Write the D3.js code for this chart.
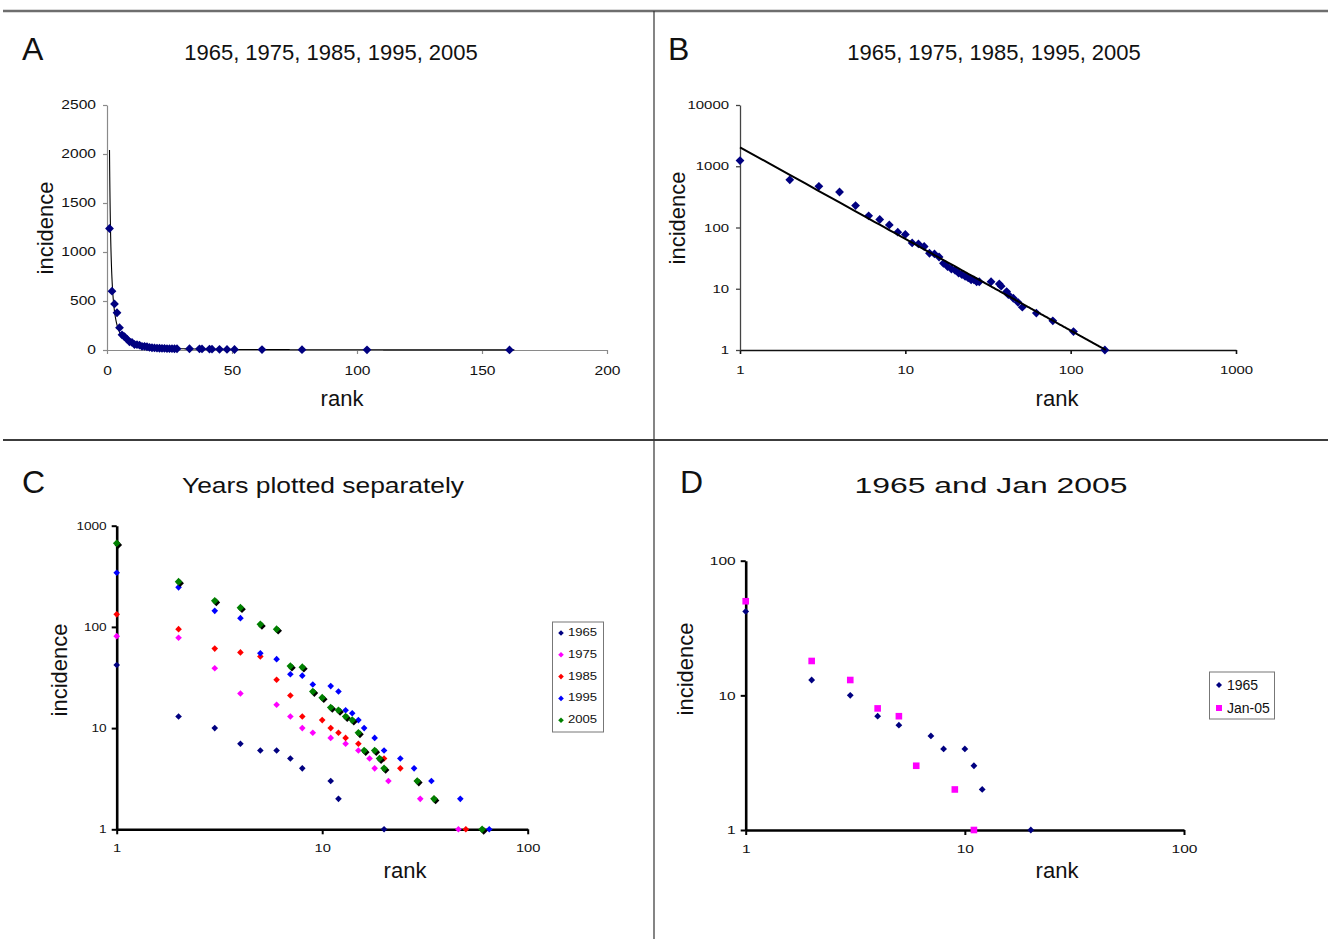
<!DOCTYPE html>
<html><head><meta charset="utf-8">
<script src="https://cdn.jsdelivr.net/npm/d3@7"></script>
<style>
body{margin:0;background:#fff;}
svg{display:block;}
text{font-family:"Liberation Sans",Arial,sans-serif;fill:#111;}
</style>
</head><body>
<svg id="chart" width="1328" height="939"></svg>
<script>
// ---------- DATA ----------
// Panels A & B: all years combined (rank vs incidence)
const allRanks     = [1,2,3,4,5,6,7,8,9,10,11,12,13,14,15,16,17,18,19,20,21,22,23,24,25,26,27,28,33,37,38,41,42,45,48,51,62,78,104,161];
const allIncidence = [1240,600,470,380,228,155,135,110,84,77,56,54,49,38,37,33,26,23,21,20,18,17,16,15,14,14,13,13,13,12,11,9,8,7,6,5,4,3,2,1];
// power-law trendline (Excel fit) : incidence = trendCoef * rank ^ trendExponent
const trendCoef = 2040;
const trendExponent = -1.496;
const trendRange = [1, 163];

// Panel C: years plotted separately
const years = ["1965","1975","1985","1995","2005"];
const rank1965 = [1,2,3,4,5,6,7,8,11,12,20];
const inc1965  = [42,13,10,7,6,6,5,4,3,2,1];
const rank1975 = [1,2,3,4,6,7,8,9,11,13,15,17,18,21,30,46];
const inc1975  = [81,78,39,22,17,13,10,9,8,7,6,5,4,3,2,1];
const rank1985 = [1,2,3,4,5,6,7,8,10,11,12,13,15,20,24,29,35,50];
const inc1985  = [133,95,61,56,51,30,21,13,12,10,9,8,7,5,4,3,2,1];
const rank1995 = [1,2,3,4,5,6,7,8,9,11,12,13,14,15,16,18,20,24,28,34,47,65];
const inc1995  = [343,246,144,122,55,48,34,33,27,26,23,15,14,12,10,8,6,5,4,3,2,1];
const rank2005 = [1,2,3,4,5,6,7,8,9,10,11,12,13,14,15,16,18,19,20,29,35,60];
const inc2005  = [670,280,181,155,106,95,41,40,23,20,16,15,13,12,9,6,6,5,4,3,2,1];

// Panel D: 1965 and Jan 2005
const seriesD = ["1965","Jan-05"];
const rankD1965 = [1,2,3,4,5,7,8,10,11,12,20];
const incD1965  = [42,13,10,7,6,5,4,4,3,2,1];
const rankDJan05 = [1,2,3,4,5,6,9,11];
const incDJan05  = [50,18,13,8,7,3,2,1];

// tick values
const ticksAx = [0,50,100,150,200];
const ticksAy = [0,500,1000,1500,2000,2500];
const ticksBx = [1,10,100,1000];
const ticksBy = [1,10,100,1000,10000];
const ticksCx = [1,10,100];
const ticksCy = [1,10,100,1000];
const ticksDx = [1,10,100];
const ticksDy = [1,10,100];

// ---------- DRAWING ----------
const svg = d3.select("#chart");
const FONT = '"Liberation Sans",Arial,sans-serif';
const zip = (a,b) => a.map((v,i)=>({x:v,y:b[i]}));

// frame
svg.append("line").attr("x1",3).attr("x2",1328).attr("y1",11).attr("y2",11).attr("stroke","#6e6e6e").attr("stroke-width",2.5);
svg.append("line").attr("x1",3).attr("x2",1328).attr("y1",440).attr("y2",440).attr("stroke","#3c3c3c").attr("stroke-width",2);
svg.append("line").attr("x1",654).attr("x2",654).attr("y1",11).attr("y2",939).attr("stroke","#333").attr("stroke-width",1.2);

function diamond(r){ return `M0,${-r}L${r},0L0,${r}L${-r},0Z`; }
function square(r){ return `M${-r},${-r}H${r}V${r}H${-r}Z`; }

function styleAxis(g, opt){
  g.select(".domain").attr("stroke",opt.color).attr("stroke-width",opt.width);
  g.selectAll(".tick line").attr("stroke",opt.color).attr("stroke-width",opt.tickWidth||opt.width);
  g.selectAll(".tick text").attr("font-family",FONT).attr("font-size",opt.fs).attr("fill","#222")
    .each(function(){
      const t = d3.select(this);
      const x = +t.attr("x")||0;
      t.attr("transform",`translate(${x},0) scale(${opt.sx},1) translate(${-x},0)`);
    });
}

function text(x,y,str,fs,anchor,rot,sx){
  const t = svg.append("text").attr("font-size",fs).attr("text-anchor",anchor||"middle").text(str);
  if(rot){ t.attr("transform",`translate(${x},${y}) rotate(-90)`); }
  else if(sx){ t.attr("transform",`translate(${x},${y}) scale(${sx},1)`); }
  else { t.attr("x",x).attr("y",y); }
  return t;
}

// ===== Panel A =====
{
  const x = d3.scaleLinear().domain([0,200]).range([107,607]);
  const y = d3.scaleLinear().domain([0,2500]).range([350,105]);
  const gx = svg.append("g").attr("transform",`translate(0,${y(0)})`)
    .call(d3.axisBottom(x).tickValues(ticksAx).tickSize(4).tickSizeOuter(0).tickPadding(12).tickFormat(d3.format("d")));
  styleAxis(gx,{color:"#8a8a8a",width:1.2,fs:12,sx:1.3});
  const gy = svg.append("g").attr("transform",`translate(${x(0)},0)`)
    .call(d3.axisLeft(y).tickValues(ticksAy).tickSize(4).tickSizeOuter(0).tickPadding(7).tickFormat(d3.format("d")));
  styleAxis(gy,{color:"#8a8a8a",width:1.2,fs:12,sx:1.3});
  const trend = d3.range(trendRange[0], trendRange[1], 0.05).map(r=>({x:r,y:trendCoef*Math.pow(r,trendExponent)}));
  svg.append("path").datum(trend).attr("fill","none").attr("stroke","#000").attr("stroke-width",1.1)
    .attr("d",d3.line().x(d=>x(d.x)).y(d=>y(d.y)));
  svg.append("g").selectAll("path").data(zip(allRanks,allIncidence)).join("path")
    .attr("transform",d=>`translate(${x(d.x)},${y(d.y)})`).attr("d",diamond(4.4)).attr("fill","#000080");
  text(22,60,"A",32,"start");
  text(331,60,"1965, 1975, 1985, 1995, 2005",22);
  text(53,228,"incidence",22,"middle",true);
  text(342,406,"rank",22);
}

// ===== Panel B =====
{
  const x = d3.scaleLog().domain([1,1000]).range([740,1236]);
  const y = d3.scaleLog().domain([1,10000]).range([350,105]);
  const gx = svg.append("g").attr("transform",`translate(0,${y(1)})`)
    .call(d3.axisBottom(x).tickValues(ticksBx).tickSize(4).tickSizeOuter(0).tickPadding(12).tickFormat(d3.format("d")));
  styleAxis(gx,{color:"#111",width:1.6,fs:11.5,sx:1.3});
  const gy = svg.append("g").attr("transform",`translate(${x(1)},0)`)
    .call(d3.axisLeft(y).tickValues(ticksBy).tickSize(4).tickSizeOuter(0).tickPadding(7).tickFormat(d3.format("d")));
  styleAxis(gy,{color:"#444",width:1.3,fs:11.5,sx:1.3});
  svg.append("g").selectAll("path").data(zip(allRanks,allIncidence)).join("path")
    .attr("transform",d=>`translate(${x(d.x)},${y(d.y)})`).attr("d",diamond(4.4)).attr("fill","#000080");
  const trend = d3.range(trendRange[0], trendRange[1]+0.5, 0.5).map(r=>({x:r,y:trendCoef*Math.pow(r,trendExponent)}));
  svg.append("path").datum(trend).attr("fill","none").attr("stroke","#000").attr("stroke-width",2)
    .attr("d",d3.line().x(d=>x(d.x)).y(d=>y(Math.max(1,d.y))));
  text(668,60,"B",32,"start");
  text(994,60,"1965, 1975, 1985, 1995, 2005",22);
  text(685,218,"incidence",22,"middle",true);
  text(1057,406,"rank",22);
}

// ===== Panel C =====
{
  const x = d3.scaleLog().domain([1,100]).range([116.7,527.7]);
  const y = d3.scaleLog().domain([1,1000]).range([829.3,525.7]);
  const colors = {"1965":"#000080","1975":"#ff00ff","1985":"#ff0000","1995":"#0000ff","2005":"#008000"};
  const data = {"1965":zip(rank1965,inc1965),"1975":zip(rank1975,inc1975),"1985":zip(rank1985,inc1985),"1995":zip(rank1995,inc1995),"2005":zip(rank2005,inc2005)};
  const gx = svg.append("g").attr("transform",`translate(0,${y(1)})`)
    .call(d3.axisBottom(x).tickValues(ticksCx).tickSize(5).tickSizeOuter(0).tickPadding(10).tickFormat(d3.format("d")));
  styleAxis(gx,{color:"#000",width:2.6,tickWidth:2,fs:10.5,sx:1.4});
  const gy = svg.append("g").attr("transform",`translate(${x(1)},0)`)
    .call(d3.axisLeft(y).tickValues(ticksCy).tickSize(5).tickSizeOuter(0).tickPadding(5).tickFormat(d3.format("d")));
  styleAxis(gy,{color:"#000",width:2.6,tickWidth:2,fs:10.5,sx:1.3});
  years.forEach(yr=>{
    const g = svg.append("g");
    if(yr==="2005"){
      g.selectAll("path.sh").data(data[yr]).join("path").attr("class","sh")
        .attr("transform",d=>`translate(${x(d.x)+1.6},${y(d.y)+1.6})`).attr("d",diamond(3.8)).attr("fill","#000");
      g.selectAll("path.mk").data(data[yr]).join("path").attr("class","mk")
        .attr("transform",d=>`translate(${x(d.x)},${y(d.y)})`).attr("d",diamond(3.8)).attr("fill",colors[yr]);
    } else {
      g.selectAll("path").data(data[yr]).join("path")
        .attr("transform",d=>`translate(${x(d.x)},${y(d.y)})`).attr("d",diamond(3.3)).attr("fill",colors[yr]);
    }
  });
  // legend
  const lg = svg.append("g");
  lg.append("rect").attr("x",552.5).attr("y",622).attr("width",51).attr("height",110).attr("fill","#fff").attr("stroke","#777").attr("stroke-width",1);
  years.forEach((yr,i)=>{
    const cy = 632 + i*21.8;
    lg.append("path").attr("transform",`translate(561,${cy+1})`).attr("d",diamond(2.8)).attr("fill",colors[yr]);
    lg.append("text").attr("x",568).attr("y",cy+4).attr("font-size",10.5).attr("transform",`translate(568,0) scale(1.25,1) translate(-568,0)`).text(yr);
  });
  text(22,493,"C",32,"start");
  text(323,493,"Years plotted separately",22,"middle",false,1.2);
  text(67,670,"incidence",22,"middle",true);
  text(405,878,"rank",22);
}

// ===== Panel D =====
{
  const x = d3.scaleLog().domain([1,100]).range([745.7,1184]);
  const y = d3.scaleLog().domain([1,100]).range([830,560.7]);
  const gx = svg.append("g").attr("transform",`translate(0,${y(1)})`)
    .call(d3.axisBottom(x).tickValues(ticksDx).tickSize(5).tickSizeOuter(0).tickPadding(10).tickFormat(d3.format("d")));
  styleAxis(gx,{color:"#000",width:2.6,tickWidth:2,fs:11.5,sx:1.35});
  const gy = svg.append("g").attr("transform",`translate(${x(1)},0)`)
    .call(d3.axisLeft(y).tickValues(ticksDy).tickSize(5).tickSizeOuter(0).tickPadding(5).tickFormat(d3.format("d")));
  styleAxis(gy,{color:"#000",width:2.6,tickWidth:2,fs:11.5,sx:1.35});
  svg.append("g").selectAll("path").data(zip(rankDJan05,incDJan05)).join("path")
    .attr("transform",d=>`translate(${x(d.x)},${y(d.y)})`).attr("d",square(3.3)).attr("fill","#ff00ff");
  svg.append("g").selectAll("path").data(zip(rankD1965,incD1965)).join("path")
    .attr("transform",d=>`translate(${x(d.x)},${y(d.y)})`).attr("d",diamond(3.4)).attr("fill","#000080");
  const lg = svg.append("g");
  lg.append("rect").attr("x",1209.5).attr("y",672).attr("width",65).attr("height",47).attr("fill","#fff").attr("stroke","#777").attr("stroke-width",1);
  lg.append("path").attr("transform","translate(1219,685)").attr("d",diamond(3)).attr("fill","#000080");
  lg.append("text").attr("x",1227).attr("y",689.5).attr("font-size",14).text(seriesD[0]);
  lg.append("path").attr("transform","translate(1219,708)").attr("d",square(3)).attr("fill","#ff00ff");
  lg.append("text").attr("x",1227).attr("y",713).attr("font-size",14).text(seriesD[1]);
  text(680,493,"D",32,"start");
  text(991,493,"1965 and Jan 2005",22,"middle",false,1.45);
  text(693,669,"incidence",22,"middle",true);
  text(1057,878,"rank",22);
}
</script>
</body></html>
